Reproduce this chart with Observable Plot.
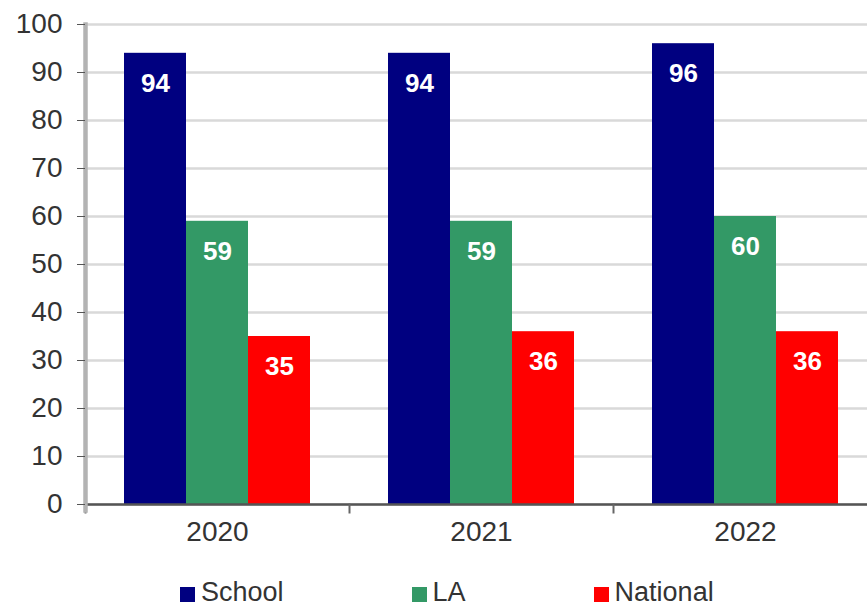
<!DOCTYPE html>
<html>
<head>
<meta charset="utf-8">
<script src="https://cdn.jsdelivr.net/npm/d3@7"></script>
<script src="https://cdn.jsdelivr.net/npm/@observablehq/plot@0.6"></script>
<style>
  html, body { margin: 0; padding: 0; background: #fff; }
  body { width: 867px; height: 607px; overflow: hidden; font-family: "Liberation Sans", Arial, sans-serif; }
  #legend { display: flex; align-items: center; padding-left: 180px; gap: 128px; margin-top: 9px; font-size: 27px; color: #333; line-height: 26px; height: 26px; }
  #legend .item { display: flex; align-items: center; gap: 6px; }
  #legend .sw { width: 15px; height: 15px; display: inline-block; margin-top: 4px; }
</style>
</head>
<body>
<div id="chart"></div>
<div id="legend"></div>
<script>
const years = ["2020", "2021", "2022"];
const series = ["School", "LA", "National"];
const school = [94, 94, 96];
const la = [59, 59, 60];
const national = [35, 36, 36];
const colors = ["#000080", "#339966", "#ff0000"];

const seriesValues = {School: school, LA: la, National: national};
const data = years.flatMap((year, i) =>
  series.map(s => ({year, series: s, value: seriesValues[s][i]}))
);

const chart = Plot.plot({
  width: 867,
  height: 570,
  marginLeft: 85,
  marginRight: -10,
  marginTop: 24,
  marginBottom: 66,
  style: {fontFamily: "'Liberation Sans', Arial, sans-serif", fontSize: "28px", background: "#fff", overflow: "hidden"},
  fx: {domain: years, padding: 0, label: null},
  x: {domain: series, paddingInner: 0, paddingOuter: 0.606, axis: null},
  y: {domain: [0, 100], label: null},
  color: {domain: series, range: colors},
  marks: [
    Plot.gridY({ticks: 10, stroke: "#d9d9d9", strokeOpacity: 1, strokeWidth: 2.5}),
    Plot.barY(data, {fx: "year", x: "series", y: "value", fill: "series"}),
    Plot.text(data, {fx: "year", x: "series", y: "value", text: d => String(d.value), fill: "white", fontWeight: "bold", fontSize: 26, dy: 30}),
    Plot.ruleY([0], {stroke: "#555", strokeWidth: 2.5}),
    Plot.frame({anchor: "left", insetTop: 480, insetBottom: -8, stroke: "#666", strokeWidth: 2}),
    Plot.frame({anchor: "left", facetAnchor: "left", stroke: "#b3b3b3", strokeWidth: 4.5, insetBottom: -6}),
    Plot.axisY({ticks: 10, tickSize: 8, tickPadding: 15, stroke: "#555", fill: "#333", fontSize: 28, label: null}),
    Plot.axisFx({anchor: "bottom", tickSize: 0, tickPadding: 17, fill: "#333", fontSize: 28, label: null})
  ]
});
document.getElementById("chart").appendChild(chart);

const legend = document.getElementById("legend");
series.forEach((s, i) => {
  const item = document.createElement("div");
  item.className = "item";
  const sw = document.createElement("span");
  sw.className = "sw";
  sw.style.background = colors[i];
  const label = document.createElement("span");
  label.textContent = s;
  item.appendChild(sw);
  item.appendChild(label);
  legend.appendChild(item);
});
</script>
</body>
</html>
